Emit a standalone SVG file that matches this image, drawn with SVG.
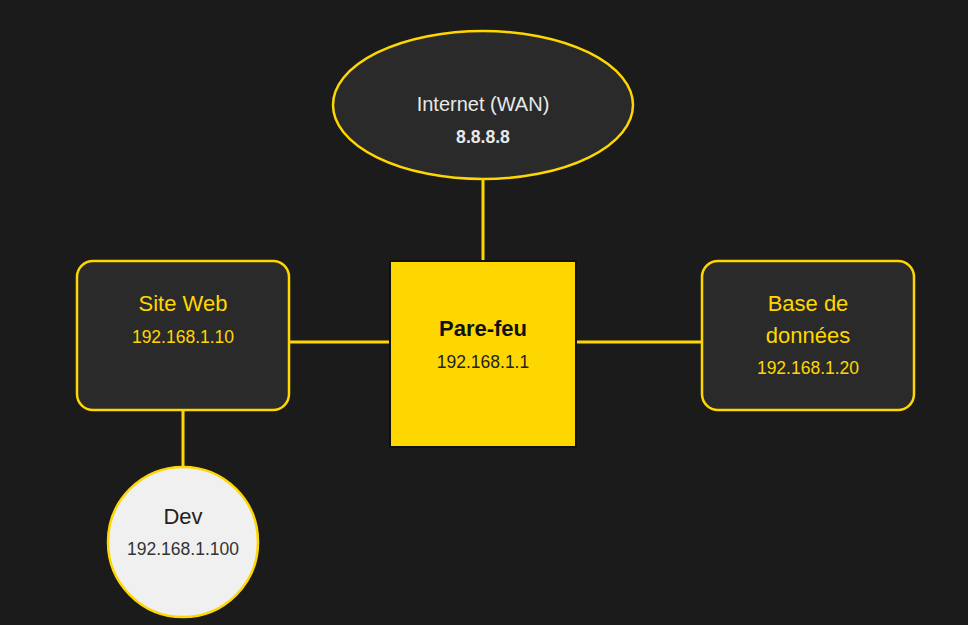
<svg xmlns="http://www.w3.org/2000/svg" width="968" height="625" viewBox="0 0 968 625">
<style>
text{font-family:"Liberation Sans",Arial,sans-serif;text-anchor:middle}
.dark{fill:#2a2a2a;stroke:#FFD700;stroke-width:2.5}
.conn{stroke:#FFD700;stroke-width:3;fill:none}
.y{fill:#FFD700}
.t{font-size:22px}
.ip{font-size:17.5px}
</style>
<rect width="968" height="625" fill="#1b1b1b"/>
<g id="connectors">
<line class="conn" x1="483" y1="180" x2="483" y2="261"/>
<line class="conn" x1="289" y1="342" x2="390" y2="342"/>
<line class="conn" x1="576" y1="342" x2="702" y2="342"/>
<line class="conn" x1="183" y1="410" x2="183" y2="467"/>
</g>
<g id="internet">
<ellipse class="dark" cx="483" cy="105" rx="150" ry="74"/>
<text x="483" y="111" font-size="20" fill="#e8e8e8">Internet (WAN)</text>
<text x="483" y="143" font-size="17.6" fill="#e8e8e8" font-weight="bold">8.8.8.8</text>
</g>
<g id="siteweb">
<rect class="dark" x="77" y="261" width="212" height="149" rx="16"/>
<text class="y t" x="183" y="311">Site Web</text>
<text class="y ip" x="183" y="343">192.168.1.10</text>
</g>
<g id="parefeu">
<rect x="390" y="261" width="186" height="186" fill="#FFD700" stroke="#111" stroke-width="2"/>
<text class="t" x="483" y="336" font-weight="bold" fill="#111">Pare-feu</text>
<text class="ip" x="483" y="368" fill="#222">192.168.1.1</text>
</g>
<g id="basededonnees">
<rect class="dark" x="702" y="261" width="212" height="149" rx="16"/>
<text class="y t" x="808" y="311">Base de</text>
<text class="y t" x="808" y="343">données</text>
<text class="y ip" x="808" y="374">192.168.1.20</text>
</g>
<g id="dev">
<circle cx="183" cy="542" r="75" fill="#f0f0f0" stroke="#FFD700" stroke-width="2.5"/>
<text class="t" x="183" y="524" fill="#222">Dev</text>
<text class="ip" x="183" y="555" fill="#333">192.168.1.100</text>
</g>
</svg>
